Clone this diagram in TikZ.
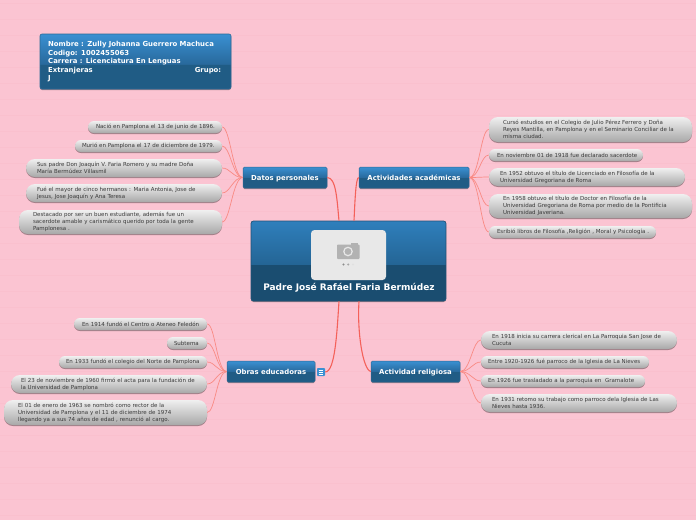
\documentclass[tikz,border=0pt]{standalone}
\usepackage{fontspec}
\setmainfont{DejaVu Sans}
\usetikzlibrary{calc,shadows}
\definecolor{bgpink}{HTML}{FBC4D2}
\definecolor{stripe}{HTML}{FAC0CE}
\definecolor{linkred}{HTML}{F98A84}
\definecolor{mainred}{HTML}{F4615A}
\definecolor{boxtop}{HTML}{3A90D2}
\definecolor{boxmid}{HTML}{28699C}
\definecolor{boxlow}{HTML}{205C85}
\definecolor{boxedge}{HTML}{2B6A96}
\definecolor{centtop}{HTML}{2F7FBC}
\definecolor{centmid}{HTML}{246595}
\definecolor{centlow}{HTML}{1A4D70}
\definecolor{centedge}{HTML}{1F5378}
\definecolor{subtxt}{HTML}{3A3A3A}
\pgfdeclareverticalshading{headglossy}{100bp}{color(0bp)=(boxlow); color(50bp)=(boxlow); color(50.01bp)=(boxmid); color(75bp)=(boxtop); color(100bp)=(boxtop)}
\pgfdeclareverticalshading{infoglossy}{100bp}{color(0bp)=(boxlow); color(47.7bp)=(boxlow); color(47.71bp)=(boxmid); color(75bp)=(boxtop); color(100bp)=(boxtop)}
\pgfdeclareverticalshading{centglossy}{100bp}{color(0bp)=(centlow); color(48bp)=(centlow); color(48.01bp)=(centmid); color(75bp)=(centtop); color(100bp)=(centtop)}
\tikzset{
  softshadow/.style={drop shadow={shadow xshift=0pt,shadow yshift=-1pt,opacity=.35,fill=black}},
  bubble/.style={rounded corners=#1,top color=white!94!black,bottom color=white!66!black,softshadow,
    inner sep=0pt,font=\fontsize{5.5}{7}\selectfont,text=subtxt},
  headbox/.style={shading=headglossy,draw=boxedge,line width=.5pt,rounded corners=1.5pt,softshadow,inner sep=0pt,
    font=\bfseries\fontsize{6.9}{8}\selectfont,text=white,text height=5.2pt,text depth=0pt},
  sublink/.style={draw=linkred,line width=.7pt},
  mainlink/.style={draw=mainred,line width=1.1pt},
}
% \bubble{name}{y1}{y2}{x1}{x2}{textx}{text}
\newcommand{\bubble}[7]{%
  \pgfmathsetmacro{\bubr}{min(9,(#3-#2)/2)}%
  \pgfmathsetmacro{\bubw}{#5-#4}%
  \pgfmathsetmacro{\bubh}{#3-#2}%
  \pgfmathsetmacro{\bubp}{#6-#4}%
  \pgfmathsetmacro{\bubq}{#5-#6}%
  \node[bubble=\bubr pt,minimum height=\bubh pt,text width=\bubw pt] (#1) at ({(#4+#5)/2},{(#2+#3)/2})
    {\noindent\hspace*{\bubp pt}\parbox[c]{\bubq pt}{\raggedright #7}};
}
% \headnode{name}{x1}{y1}{x2}{y2}{text}
\newcommand{\headnode}[6]{%
  \pgfmathsetmacro{\bubw}{#4-#2}%
  \pgfmathsetmacro{\bubh}{#5-#3}%
  \node[headbox,minimum width=\bubw pt,minimum height=\bubh pt] (#1) at ({(#2+#4)/2},{(#3+#5)/2}) {#6};
}
\begin{document}
\begin{tikzpicture}[x=1pt,y=-1pt]
\useasboundingbox (0,0) rectangle (696,520);
\fill[bgpink] (0,0) rectangle (696,520);
\foreach \yy in {3,19,...,519}{\draw[stripe,line width=.6pt] (0,\yy) -- (696,\yy);}

% info box
\node[shading=infoglossy,draw=boxedge,line width=.6pt,rounded corners=2pt,softshadow,minimum width=191pt,minimum height=55pt,inner sep=0pt] (info) at (135.5,61.5) {};
\node[inner sep=0pt,anchor=north west,font=\bfseries\fontsize{6.9}{8.6}\selectfont,text=white,align=left,text width=173pt] (infotext) at (48,41)
  {Nombre : Zully Johanna Guerrero Machuca\\Codigo: 1002455063\\Carrera : Licenciatura En Lenguas\\Extranjeras\hfill Grupo:\\J};

% central box
\node[shading=centglossy,draw=centedge,line width=.7pt,rounded corners=2.5pt,softshadow,minimum width=195pt,minimum height=80pt,inner sep=0pt] (central) at (348.5,261) {};
\node[fill=white!91!black,rounded corners=3.5pt,minimum width=75pt,minimum height=50pt,inner sep=0pt] (photo) at (348.5,255) {};
\node[inner sep=0pt,font=\bfseries\fontsize{9}{10}\selectfont,text=white] (title) at (349,287.5) {Padre José Rafáel Faria Bermúdez};
% camera glyph
\fill[black!30,rounded corners=.8pt] (337,244.5) rectangle (359.5,259);
\fill[black!30] (351,243) rectangle (358,245);
\draw[white!91!black,line width=1.2pt] (348,251.5) circle (4.2pt);
\fill[black!45] (343.5,264.5) circle (1.1pt);
\fill[black!35] (348.3,264.5) circle (1.1pt);
\fill[black!12] (353,264.5) circle (1.1pt);
\coordinate (cTL) at ($(central.north)+(-9.5,0)$);
\coordinate (cTR) at ($(central.north)+(5.5,0)$);
\coordinate (cBL) at ($(central.south)+(-9.5,0)$);
\coordinate (cBR) at ($(central.south)+(10.5,0)$);

% main topics
\headnode{datos}{243}{167}{327}{188}{Datos personales}
\headnode{acad}{359}{167}{469}{188}{Actividades académicas}
\headnode{obras}{227}{361}{315}{382}{Obras educadoras}
\headnode{relig}{371}{361}{460}{382}{Actividad religiosa}

% Datos personales bubbles
\bubble{a1}{121}{133}{88}{222}{96}{Nació en Pamplona el 13 de junio de 1896.}
\bubble{a2}{140}{152}{75}{222}{82}{Murió en Pamplona el 17 de diciembre de 1979.}
\bubble{a3}{159}{177}{26}{222}{37}{Sus padre Don Joaquín V. Faria Romero y su madre Doña\\María Bermúdez Villasmil}
\bubble{a4}{184}{202}{26}{222}{37}{Fué el mayor de cinco hermanos : Maria Antonia, Jose de\\Jesus, Jose Joaquín y Ana Teresa}
\bubble{a5}{210}{234}{19}{222}{33}{Destacado por ser un buen estudiante, además fue un\\sacerdote amable y carismático querido por toda la gente\\Pamplonesa .}

% Actividades bubbles
\bubble{b1}{117}{142}{489}{692}{503}{Cursó estudios en el Colegio de Julio Pérez Ferrero y Doña\\Reyes Mantilla, en Pamplona y en el Seminario Conciliar de la\\misma ciudad.}
\bubble{b2}{149}{161}{489}{643}{497}{En noviembre 01 de 1918 fue declarado sacerdote}
\bubble{b3}{168}{186}{489}{685}{500}{En 1952 obtuvo el título de Licenciado en Filosofía de la\\Universidad Gregoriana de Roma}
\bubble{b4}{194}{218}{489}{692}{503}{En 1958 obtuvo el título de Doctor en Filosofía de la\\Universidad Gregoriana de Roma por medio de la Pontificia\\Universidad Javeriana.}
\bubble{b5}{226}{238}{489}{656}{497}{Esribió libros de Filosofía ,Religión , Moral y Psicología .}

% Obras bubbles
\bubble{c1}{318}{330}{74}{207}{82}{En 1914 fundó el Centro o Ateneo Feledón}
\bubble{c2}{337}{349}{167}{207}{174}{Subtema}
\bubble{c3}{356}{368}{59}{207}{66}{En 1933 fundó el colegio del Norte de Pamplona}
\bubble{c4}{375}{393}{11}{207}{21}{El 23 de noviembre de 1960 firmó el acta para la fundación de\\la Universidad de Pamplona}
\bubble{c5}{400}{425}{4}{207}{18}{El 01 de enero de 1963 se nombró como rector de la\\Universidad de Pamplona y el 11 de diciembre de 1974\\llegando ya a sus 74 años de edad , renunció al cargo.}

% Religiosa bubbles
\bubble{d1}{331}{349}{481}{677}{492}{En 1918 inicia su carrera clerical en La Parroquia San Jose de\\Cucuta}
\bubble{d2}{356}{368}{481}{649}{488}{Entre 1920-1926 fué parroco de la Iglesia de La Nieves}
\bubble{d3}{375}{387}{481}{645}{488}{En 1926 fue trasladado a la parroquia en\ \ Gramalote}
\bubble{d4}{394}{412}{481}{677}{492}{En 1931 retomo su trabajo como parroco dela Iglesia de Las\\Nieves hasta 1936.}

% note icon
\node[fill=boxtop,rounded corners=.8pt,minimum size=8pt,inner sep=0pt] (note) at (321,372) {};
\foreach \yy in {370,372,374}{\draw[white,line width=.5pt] (318.7,\yy) -- (323.3,\yy);}

% connectors
\foreach \n in {a1,a2,a3,a4,a5}{\draw[sublink] (datos.west) .. controls +(-10,0) and +(8,0) .. (\n.east);}
\foreach \n in {b1,b2,b3,b4,b5}{\draw[sublink] (acad.east) .. controls +(10,0) and +(-8,0) .. (\n.west);}
\foreach \n in {c1,c2,c3,c4,c5}{\draw[sublink] (obras.west) .. controls +(-10,0) and +(8,0) .. (\n.east);}
\foreach \n in {d1,d2,d3,d4}{\draw[sublink] (relig.east) .. controls +(10,0) and +(-8,0) .. (\n.west);}
\draw[mainlink] (datos.east) .. controls +(9,0) and +(-2,-20) .. (cTL);
\draw[mainlink] (acad.west) .. controls +(-3,0) and +(1,-20) .. (cTR);
\draw[mainlink] (note.east) .. controls +(10,0) and +(-2,30) .. (cBL);
\draw[mainlink] (relig.west) .. controls +(-8,-2) and +(-2,30) .. (cBR);
\end{tikzpicture}
\end{document}
